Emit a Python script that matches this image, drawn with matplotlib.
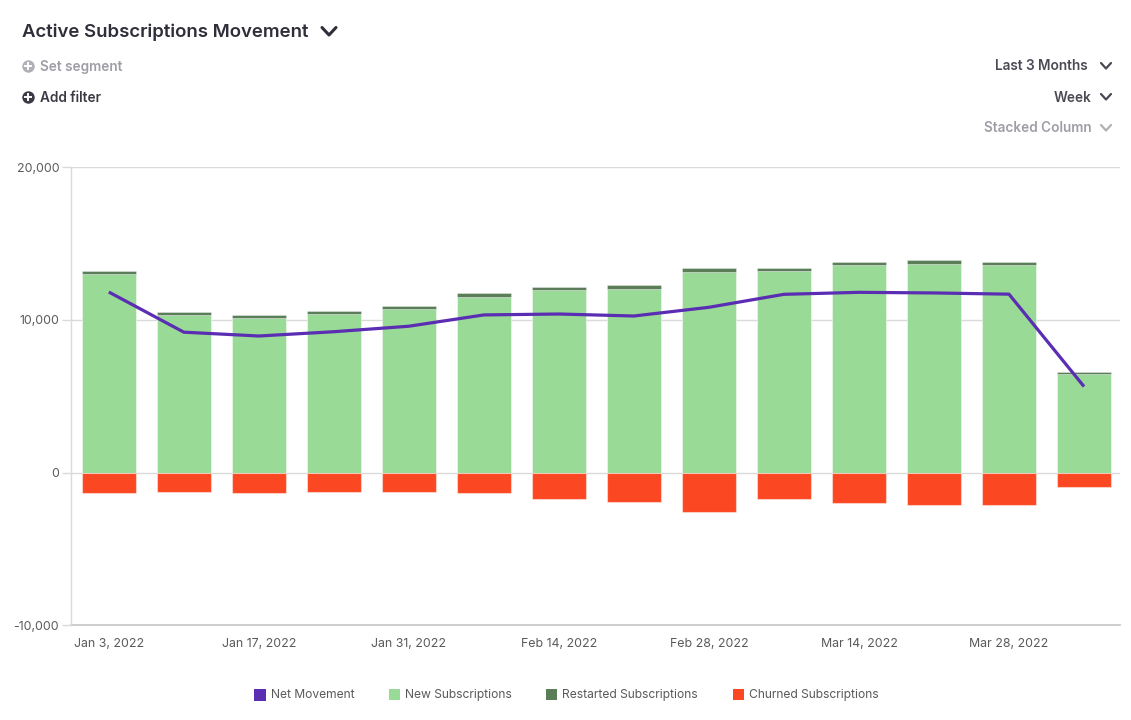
import matplotlib
matplotlib.use("Agg")
import matplotlib.pyplot as plt
from matplotlib.lines import Line2D
from matplotlib.patches import Rectangle
import numpy as np

# ── Dados ─────────────────────────────────────────────────────────────────────

weeks = ["Jan 3, 2022", "Jan 10, 2022", "Jan 17, 2022", "Jan 24, 2022",
         "Jan 31, 2022", "Feb 7, 2022", "Feb 14, 2022", "Feb 21, 2022",
         "Feb 28, 2022", "Mar 7, 2022", "Mar 14, 2022", "Mar 21, 2022",
         "Mar 28, 2022", "Apr 4, 2022"]
new_subs = [13000, 10300, 10130, 10410, 10700, 11500, 11960, 12050,
            13130, 13220, 13580, 13680, 13620, 6470]
restarted_subs = [200, 200, 200, 180, 215, 260, 200, 240,
                  290, 200, 210, 240, 170, 110]
churned_subs = [-1330, -1260, -1330, -1260, -1285, -1350, -1700, -1940,
                -2570, -1745, -1990, -2150, -2100, -960]
net_movement = [11830, 9200, 8950, 9230, 9590, 10330, 10390, 10260,
                10830, 11680, 11810, 11770, 11690, 5640]
y_ticks = [-10000, 0, 10000, 20000]

# ── Estilo ────────────────────────────────────────────────────────────────────

C_NET = "#5a2db3"
C_NEW = "#98da96"
C_RESTART = "#5a7f58"
C_CHURN = "#fc4822"
C_DARK = "#2f2f3a"
C_GRAY = "#9e9ea6"
C_TICK = "#5a5a5a"

plt.rcParams["font.family"] = ["Inter", "DejaVu Sans"]

W, H = 1131, 720
fig = plt.figure(figsize=(W / 100, H / 100), dpi=100)


def fx(x):
    return x / W


def fy(y):
    return 1 - y / H


def chevron(x, y, w, h, color, lw=2.0):
    # seta "v" desenhada em pixels (origem no topo)
    fig.add_artist(Line2D([fx(x), fx(x + w / 2), fx(x + w)],
                          [fy(y), fy(y + h), fy(y)],
                          color=color, lw=lw, solid_capstyle="round",
                          solid_joinstyle="round"))


def circle_plus(cx, cy, r, color):
    # círculo como marcador (fica redondo independente do aspecto)
    fig.add_artist(Line2D([fx(cx)], [fy(cy)], marker="o", markersize=2 * r * 0.8,
                          color=color, markeredgewidth=0, lw=0))
    k = r * 0.55
    fig.add_artist(Line2D([fx(cx - k), fx(cx + k)], [fy(cy), fy(cy)],
                          color="white", lw=1.4))
    fig.add_artist(Line2D([fx(cx), fx(cx)], [fy(cy - k), fy(cy + k)],
                          color="white", lw=1.4))


# ── Cabeçalho ─────────────────────────────────────────────────────────────────

fig.text(fx(22), fy(32), "Active Subscriptions Movement", fontsize=13.4,
         fontweight="semibold", color=C_DARK, va="center", ha="left")
chevron(322, 27.5, 14, 7.5, C_DARK, lw=2.2)

circle_plus(28, 66, 5.6, "#b0b0b6")
fig.text(fx(40), fy(66.5), "Set segment", fontsize=9.8, fontweight="semibold",
         color=C_GRAY, va="center", ha="left")
circle_plus(28, 97, 5.6, "#3a3a45")
fig.text(fx(40), fy(97.5), "Add filter", fontsize=9.8, fontweight="semibold",
         color="#3a3a45", va="center", ha="left")

fig.text(fx(1088), fy(66.5), "Last 3 Months", fontsize=9.8, fontweight="semibold",
         color="#4a4a55", va="center", ha="right")
chevron(1101, 63, 10, 5.5, "#4a4a55", lw=1.6)
fig.text(fx(1092), fy(97.5), "Week", fontsize=9.8, fontweight="semibold",
         color="#4a4a55", va="center", ha="right")
chevron(1101, 94, 10, 5.5, "#4a4a55", lw=1.6)
fig.text(fx(1092), fy(127.5), "Stacked Column", fontsize=9.8, fontweight="semibold",
         color=C_GRAY, va="center", ha="right")
chevron(1101, 125, 10, 5.5, "#b0b0b6", lw=1.6)

# ── Gráfico ───────────────────────────────────────────────────────────────────

left, right, top, bottom = 71.3, 1120, 167.3, 625.3
ax = fig.add_axes([fx(left), fy(bottom), fx(right - left), (bottom - top) / H])

x = np.arange(len(weeks))
bw = 0.72
edge = (1, 1, 1, 0.45)
ax.bar(x, new_subs, width=bw, color=C_NEW, edgecolor=edge, lw=0.8, zorder=2)
ax.bar(x, restarted_subs, width=bw, bottom=new_subs, color=C_RESTART,
       edgecolor=edge, lw=0.5, zorder=2)
ax.bar(x, churned_subs, width=bw, color=C_CHURN, edgecolor=edge, lw=0.8, zorder=2)
ax.plot(x, net_movement, color=C_NET, lw=2.3, zorder=3, solid_capstyle="butt")

ax.set_xlim(-0.5, 13.48)
ax.set_ylim(-10000, 20000)
ax.set_yticks(y_ticks)
ax.set_yticklabels([f"{v:,}" for v in y_ticks], fontsize=8.9, color=C_TICK)
ax.set_xticks(x[::2])
ax.set_xticklabels(weeks[::2], fontsize=8.9, color=C_TICK)
ax.tick_params(axis="x", length=0, pad=9.5)
ax.tick_params(axis="y", length=6.2, width=1, color="#dadada", pad=2.5)

ax.grid(axis="y", color="#dadada", lw=1, zorder=0)
for s in ["top", "right", "bottom"]:
    ax.spines[s].set_visible(False)
ax.spines["left"].set_color("#dadada")
ax.spines["left"].set_linewidth(1)
ax.axhline(-10000, color="#c4c4c4", lw=1.2, zorder=1, clip_on=False)

# ── Legenda ───────────────────────────────────────────────────────────────────

legend_items = [
    ("Net Movement", C_NET, 254, 12),
    ("New Subscriptions", C_NEW, 389, 11),
    ("Restarted Subscriptions", C_RESTART, 546, 11),
    ("Churned Subscriptions", C_CHURN, 733, 11),
]
for label, color, xpos, size in legend_items:
    fig.add_artist(Rectangle((fx(xpos), fy(694.5 + size / 2)), size / W, size / H,
                             transform=fig.transFigure, color=color, lw=0))
    fig.text(fx(xpos + size + 5), fy(695), label, fontsize=8.7, color=C_TICK,
             va="center", ha="left")

fig.savefig("out.png", dpi=100)
